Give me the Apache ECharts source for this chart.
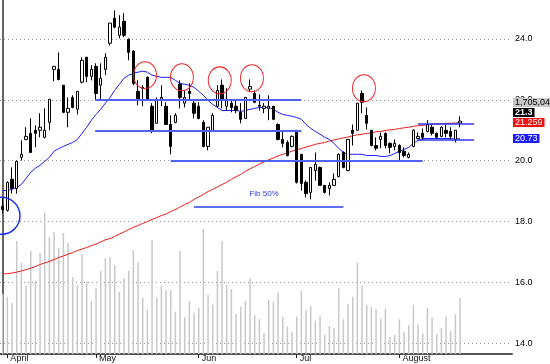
<!DOCTYPE html>
<html><head><meta charset="utf-8">
<script src="https://cdn.jsdelivr.net/npm/echarts@6/dist/echarts.min.js"></script>
<style>html,body{margin:0;padding:0;background:#fff}#c{width:550px;height:364px}</style>
</head><body><div id="c"></div>
<script>
// Daily candles: [open, close, low, high]
const ohlc = [
[18.50,18.40,18.27,18.79],[18.37,19.29,18.33,19.32],[19.39,19.09,18.92,19.78],[19.09,19.98,18.92,20.01],[20.11,20.21,20.01,20.67],
[20.70,20.80,20.67,21.10],[20.90,20.27,20.27,21.39],[21.00,20.90,20.44,21.16],[21.00,21.10,20.77,21.56],[20.77,21.00,20.73,21.72],
[21.26,22.02,21.00,22.02],[23.00,23.10,22.61,23.10],[23.00,22.67,22.64,23.56],[22.48,21.59,21.56,22.48],[21.59,21.72,21.10,22.08],
[22.08,21.75,21.72,22.15],[21.69,22.28,21.52,22.28],[22.58,23.30,22.54,23.40],[23.40,22.77,22.58,23.40],[22.77,23.00,22.64,23.14],
[23.10,22.21,21.98,23.20],[22.48,22.71,21.98,23.20],[23.00,23.40,22.81,23.53],[23.86,24.52,23.79,24.52],[24.68,24.39,24.35,24.94],
[24.12,24.39,24.02,24.78],[24.58,24.12,24.06,24.85],[23.99,23.56,23.30,24.02],[23.60,22.54,22.48,23.63],[22.28,22.02,21.82,22.64],
[22.38,22.41,21.79,22.48],[22.74,21.98,21.98,22.77],[21.79,21.00,20.90,21.89],[21.23,21.98,21.23,22.08],[22.02,22.08,21.79,22.48],
[21.79,21.19,21.19,21.92],[21.19,20.47,20.21,21.49],[21.26,21.49,21.23,21.56],[22.51,22.08,21.72,22.64],[21.89,22.08,21.75,22.31],
[22.28,22.21,21.98,22.54],[21.89,21.56,21.39,22.02],[21.79,21.39,21.36,21.92],[21.26,20.47,20.44,21.33],[20.47,21.10,20.34,21.10],
[21.00,21.49,21.00,21.56],[21.79,22.31,21.75,22.48],[22.48,21.98,21.72,22.67],[21.79,22.02,21.65,22.38],[21.89,21.75,21.59,21.98],
[21.79,21.65,21.56,21.98],[21.59,21.36,21.23,21.89],[21.39,22.08,21.39,22.08],[22.35,22.44,22.25,22.67],[22.21,21.92,21.89,22.31],
[21.82,21.79,21.65,22.18],[21.72,21.79,21.56,21.89],[21.72,21.79,21.33,22.15],[21.79,21.36,21.33,21.79],[21.19,20.70,20.67,21.23],
[20.70,20.57,20.44,21.00],[20.60,20.17,20.14,20.67],[20.47,20.80,20.44,20.83],[21.00,19.29,19.25,21.00],[20.21,19.25,19.02,20.21],
[19.29,18.92,18.79,19.35],[18.96,19.78,18.73,19.78],[19.68,19.88,19.35,20.27],[19.78,19.19,19.19,19.81],[19.19,18.96,18.92,19.19],
[19.09,19.19,18.86,19.29],[19.19,19.39,19.19,19.58],[19.48,20.21,19.45,20.24],[20.27,19.78,19.75,20.31],[19.68,20.70,19.65,20.70],
[21.00,20.90,20.50,21.19],[21.00,21.89,21.00,21.89],[22.21,21.92,21.56,22.31],[21.49,21.23,21.03,21.75],[21.00,20.50,20.47,21.00],
[20.50,20.41,20.34,20.77],[20.70,20.80,20.41,20.93],[20.90,20.50,20.41,20.93],[20.57,20.44,20.24,20.60],[20.47,20.57,20.34,20.70],
[20.50,20.27,19.98,20.54],[20.31,20.17,20.11,20.44],[20.11,20.21,20.08,20.27],[20.47,21.00,20.44,21.03],[20.73,20.80,20.70,20.93],
[20.90,20.77,20.67,21.06],[20.96,21.19,20.93,21.33],[21.10,20.90,20.83,21.19],[20.90,20.77,20.73,20.93],[20.80,21.10,20.77,21.13],
[21.00,20.90,20.77,21.19],[20.96,20.80,20.70,21.10],[20.70,21.00,20.60,21.00],[21.24,21.30,21.10,21.46]
];
const volume = [
1827000,1745000,1553000,3441000,2771000,2071000,3136000,2223000,3085000,4303000,
3573000,3715000,3238000,3684000,3380000,2345000,2101000,3045000,2192000,1624000,
2010000,2527000,2923000,2963000,2710000,1897000,2314000,2537000,3167000,2801000,
1705000,1349000,3471000,1705000,2071000,1949000,1949000,1288000,3136000,1127000,
1614000,1258000,1410000,3806000,1806000,1501000,2527000,3441000,2101000,1979000,
1218000,1440000,1623000,2314000,1188000,1066000,639000,1644000,1583000,1866000,
1136000,831000,670000,1136000,1927000,1331000,1462000,1014000,1166000,579000,
853000,801000,2000000,1057000,1532000,1745000,2780000,2071000,1492000,1431000,
1379000,1075000,1379000,527000,588000,1057000,670000,883000,1492000,892000,
630000,1401000,1105000,609000,792000,1136000,709000,1218000,1705040
];
const maShort = [
19.02,19.02,19.06,19.12,19.22,19.42,19.62,19.75,19.85,19.98,
20.11,20.31,20.40,20.47,20.54,20.60,20.70,20.90,21.10,21.33,
21.52,21.69,21.89,22.08,22.31,22.51,22.71,22.81,22.87,22.91,
22.94,22.91,22.81,22.77,22.74,22.74,22.74,22.64,22.54,22.51,
22.48,22.41,22.28,22.15,21.98,21.85,21.75,21.65,21.65,21.65,
21.65,21.62,21.65,21.69,21.72,21.75,21.75,21.75,21.69,21.59,
21.52,21.49,21.46,21.42,21.36,21.19,21.06,20.96,20.87,20.77,
20.70,20.57,20.40,20.27,20.21,20.21,20.21,20.21,20.17,20.17,
20.17,20.14,20.14,20.17,20.24,20.31,20.37,20.44,20.57,20.67,
20.73,20.73,20.73,20.73,20.73,20.73,20.73,20.70,20.73
];
const maLong = [
16.28,16.29,16.31,16.34,16.38,16.42,16.47,16.52,16.59,16.64,
16.69,16.75,16.82,16.87,16.93,16.98,17.05,17.10,17.15,17.21,
17.26,17.33,17.40,17.44,17.51,17.59,17.66,17.74,17.81,17.87,
17.94,18.00,18.07,18.13,18.20,18.25,18.33,18.40,18.48,18.56,
18.63,18.73,18.81,18.89,18.99,19.06,19.14,19.22,19.29,19.39,
19.47,19.55,19.65,19.73,19.81,19.89,19.96,20.03,20.09,20.16,
20.21,20.26,20.31,20.36,20.40,20.45,20.49,20.54,20.57,20.60,
20.65,20.68,20.72,20.75,20.78,20.82,20.85,20.87,20.90,20.91,
20.95,20.96,21.00,21.01,21.03,21.06,21.08,21.10,21.13,21.15,
21.16,21.18,21.19,21.21,21.21,21.23,21.23,21.24,21.259
];
const priceTicks = [14, 16, 18, 20, 22, 24];
const monthTickIdx = [1, 20, 42, 63, 85];
const monthNames = ['April', 'May', 'Jun', 'Jul', 'August'];
// horizontal support/resistance lines: [fromIndex, toIndex, price]
const levelLines = [[19.8, 64, 22.0], [19.8, 64, 21.0], [36, 90, 20.0]];
const channelLines = [[89, 101, 21.22], [89, 101, 20.70]];
const fibLine = [41, 73, 18.5];
const fibText = 'Fib 50%';
const fibTextAt = [56, 18.91];
const redCircles = [[30.5, 22.81], [38.4, 22.74], [46.5, 22.64], [53.4, 22.71], [77.4, 22.38]];
const blueCircle = [-0.26, 18.19];
const lastVolume = 1705040, lastClose = 21.3, lastMaLong = 21.259, lastMaShort = 20.73;

const volMax = 10780000;
const chart = echarts.init(document.getElementById('c'), null, {renderer: 'canvas'});
const seg = (arr, style) => arr.map(a => [
  {coord: [a[0], a[2]], lineStyle: style},
  {coord: [a[1], a[2]]}
]);
const option = {
  animation: false,
  grid: {left: 0, top: 0, width: 512, height: 354, containLabel: false},
  xAxis: [{
    type: 'value', min: -0.58, max: 109.13,
    axisLine: {show: true, onZero: false, lineStyle: {color: '#555', width: 2}},
    axisTick: {show: true, customValues: monthTickIdx, length: 4, lineStyle: {color: '#222'}},
    axisLabel: {show: true, customValues: monthTickIdx,
      formatter: v => monthNames[monthTickIdx.indexOf(Math.round(v))] || '',
      align: 'left', margin: 0, padding: [0, 0, 0, 3], fontSize: 9, color: '#111', fontFamily: 'Arial'},
    splitLine: {show: false}
  }],
  yAxis: [{
    type: 'value', position: 'right', min: 13.65, max: 25.28,
    axisLine: {show: true, lineStyle: {color: '#333', width: 1.5}},
    axisTick: {show: false, customValues: priceTicks},
    axisLabel: {customValues: priceTicks, formatter: v => v.toFixed(1), margin: 3, fontSize: 9, color: '#000', fontFamily: 'Arial'},
    splitLine: {show: true, lineStyle: {color: '#999', type: [1, 3], width: 1}}
  }, {
    type: 'value', min: 0, max: volMax, show: false, splitLine: {show: false}
  }],
  series: [
    {type: 'bar', name: 'Volume', xAxisIndex: 0, yAxisIndex: 1, barWidth: 1.5, silent: true,
     data: volume.map((v, i) => [i, v]), itemStyle: {color: '#c8c8c8'}, z: 1},
    {type: 'line', name: 'MA long', data: maLong.map((v, i) => [i, v]), symbol: 'none',
     lineStyle: {color: '#ee1c1c', width: 1}, z: 3, silent: true},
    {type: 'line', name: 'MA short', data: maShort.map((v, i) => [i, v]), symbol: 'none',
     lineStyle: {color: '#1c1cff', width: 1}, z: 3, silent: true},
    {type: 'candlestick', name: 'Price', barWidth: 3, z: 4,
     data: ohlc.map((d, i) => [i, d[0], d[1], d[2], d[3]]),
     encode: {x: 0, y: [1, 2, 3, 4]},
     itemStyle: {color: '#fff', color0: '#000', borderColor: '#000', borderColor0: '#000', borderWidth: 1},
     markLine: {silent: true, symbol: 'none', label: {show: false},
       data: [].concat(
         seg(levelLines, {color: '#5262f0', width: 2, type: 'solid'}),
         seg(channelLines, {color: '#2a3af0', width: 1.5, type: 'solid'}),
         seg([fibLine], {color: '#6070f2', width: 2, type: 'solid'})
       )},
     markPoint: {silent: true,
       data: redCircles.map(c => ({coord: c, symbol: 'circle', symbolSize: [23, 27],
         itemStyle: {color: 'rgba(0,0,0,0)', borderColor: '#f02020', borderWidth: 1}, label: {show: false}}))
         .concat([{coord: blueCircle, symbol: 'circle', symbolSize: 37,
           itemStyle: {color: 'rgba(0,0,0,0)', borderColor: '#2030f0', borderWidth: 1.5}, label: {show: false}},
           {coord: fibTextAt, symbol: 'circle', symbolSize: 0, itemStyle: {color: 'rgba(0,0,0,0)'},
            label: {show: true, position: 'inside', formatter: fibText, color: '#2a3af0', fontSize: 8, fontFamily: 'Arial'}}])
     }}
  ],
  graphic: [
    {type: 'text', left: 513, top: 98, z: 100,
     style: {text: lastVolume.toLocaleString('en-US'), fill: '#000', backgroundColor: '#c8c8c8', padding: [0, 2], font: '9px Arial', lineHeight: 9}},
    {type: 'text', left: 513, top: 108, z: 100,
     style: {text: String(lastClose), fill: '#fff', backgroundColor: '#000', padding: [0, 2], font: 'bold 9px Arial', lineHeight: 9}},
    {type: 'text', left: 513, top: 118, z: 100,
     style: {text: String(lastMaLong), fill: '#fff', backgroundColor: '#f01010', padding: [0, 2], font: '9px Arial', lineHeight: 9}},
    {type: 'text', left: 513, top: 134, z: 100,
     style: {text: String(lastMaShort), fill: '#fff', backgroundColor: '#1c1cff', padding: [0, 2], font: '9px Arial', lineHeight: 9}}
  ]
};
chart.setOption(option);
</script></body></html>
